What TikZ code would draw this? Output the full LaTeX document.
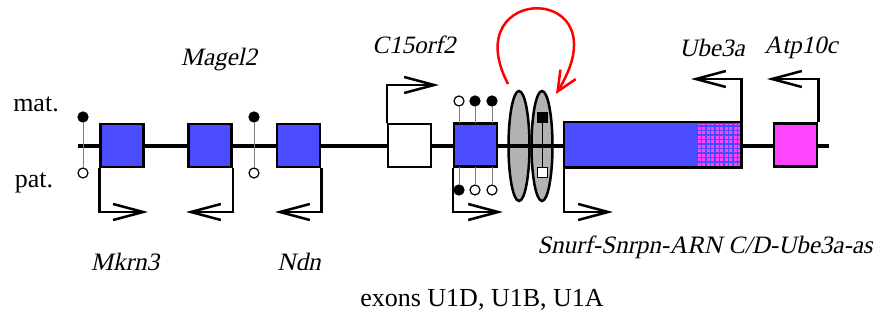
\documentclass[tikz,border=0pt]{standalone}
\usepackage{fontspec}
\setmainfont{Liberation Serif}
\newfontfamily\genefont{Liberation Serif}[FakeSlant=0.22]
\usetikzlibrary{arrows.meta,shapes.geometric}

\definecolor{exonblue}{RGB}{75,75,255}
\definecolor{imprintpink}{RGB}{255,68,255}
\definecolor{centergray}{RGB}{178,178,178}

\tikzset{
    exon/.style={draw, line width=2.5pt, fill=exonblue, minimum width=43pt,
        minimum height=43pt, inner sep=0pt},
    icbox/.style={draw, ellipse, line width=2.5pt, fill=centergray,
        minimum width=21pt, minimum height=110pt, inner sep=0pt},
    metyes/.style={circle, draw, line width=1.2pt, fill=black,
        minimum size=10pt, inner sep=0pt},
    metno/.style={metyes, fill=white},
    stem/.style={draw=gray, line width=1pt},
    prom/.style={line width=2.5pt, -{Straight Barb[length=30pt,width=16pt]}},
    genename/.style={font=\genefont\fontsize{25}{30}\selectfont},
}

\begin{document}
\begin{tikzpicture}[x=1pt, y=-1pt, font=\fontsize{26}{30}\selectfont]
    \useasboundingbox (0,0) rectangle (893,320);

    % imprinting centre
    \node[icbox] (ic1) at (519,146) {};
    \node[icbox] (ic2) at (542,146) {};

    % chromosome
    \coordinate (chrL) at (78,146);
    \coordinate (chrR) at (829,146);
    \draw[line width=4.5pt] (chrL) -- (chrR);

    % exons
    \node[exon] (mkrn) at (122,145.5) {};
    \node[exon] (magel) at (210,145.5) {};
    \node[exon] (ndn) at (298.5,145.5) {};
    \node[exon, fill=white] (c15) at (409.5,145.5) {};
    \node[exon] (uone) at (475.5,145) {};
    \node[exon, draw=none, minimum width=175pt] (snrpn) at (652.5,145) {};
    \node[exon, fill=imprintpink] (atp) at (795.5,145) {};

    % imprinted part of the long transcript
    \fill[imprintpink] (696,124) rectangle (739.5,166);
    \foreach \x in {697,701.5,...,739}
        {\draw[exonblue, line width=1.4pt] (\x,124) -- (\x,166);}
    \foreach \y in {126,130.5,...,166}
        {\draw[exonblue, line width=1.4pt] (696,\y) -- (739.5,\y);}
    \draw[line width=2.5pt] (snrpn.north west) rectangle (snrpn.south east);

    % methylation marks
    \node[metyes] (m1a) at (83,117) {};
    \node[metno] (m1b) at (83,173) {};
    \node[metyes] (m2a) at (254,117) {};
    \node[metno] (m2b) at (254,173) {};
    \draw[stem] (m1a) -- (m1b);
    \draw[stem] (m2a) -- (m2b);
    \foreach \n/\x/\s in {ua/459/metno,ub/475/metyes,uc/492/metyes}
        {\node[\s] (\n) at (\x,101) {};
         \draw[stem] (\n) -- (\x,123);}
    \foreach \n/\x/\s in {ud/459/metyes,ue/475/metno,uf/492/metno}
        {\node[\s] (\n) at (\x,190) {};
         \draw[stem] (\n) -- (\x,167);}
    \node[draw, fill=black, minimum size=10pt, inner sep=0pt] (icm) at (542,117) {};
    \node[draw, line width=1pt, fill=white, minimum size=10pt, inner sep=0pt] (icp) at (542,173) {};
    \draw[line width=1pt] (icm) -- (icp);

    % promoters
    \foreach \n/\x/\y in {tmkrn/148/212, tmagel/186/212, tndn/275/212,
        tc15/439/85, tuone/503/212, tsnrpn/613/212, tube/691/79, tatp/767/79}
        {\coordinate (\n) at (\x,\y);}
    \draw[prom] (mkrn.south west) |- (tmkrn);
    \draw[prom] (magel.south east) |- (tmagel);
    \draw[prom] (ndn.south east) |- (tndn);
    \draw[prom] (c15.north west) |- (tc15);
    \draw[prom] (uone.south west) |- (tuone);
    \draw[prom] (snrpn.south west) |- (tsnrpn);
    \draw[prom] (snrpn.north east) |- (tube);
    \draw[prom] (atp.north east) |- (tatp);

    % silencing loop
    \coordinate (loopstart) at (508,84);
    \coordinate (loopend) at (556,94);
    \draw[red, line width=2.5pt, -{Straight Barb[length=20pt,width=18pt]}]
        (loopstart) .. controls (455,-18) and (625,-18) .. (loopend);

    % labels
    \node (mat) at (36,104) {mat.};
    \node (pat) at (34,183) {pat.};
    \node[genename] (lmagel) at (219,60) {Magel2};
    \node[genename] (lc15) at (414,45) {C15orf2};
    \node[genename] (lube) at (712,48) {Ube3a};
    \node[genename] (latp) at (801,48) {Atp10c};
    \node[genename] (lmkrn) at (125,262) {Mkrn3};
    \node[genename] (lndn) at (299,262) {Ndn};
    \node[genename] (lsnrpn) at (705,247) {Snurf-Snrpn-ARN C/D-Ube3a-as};
    \node (lexons) at (482,300) {exons U1D, U1B, U1A};
\end{tikzpicture}
\end{document}
